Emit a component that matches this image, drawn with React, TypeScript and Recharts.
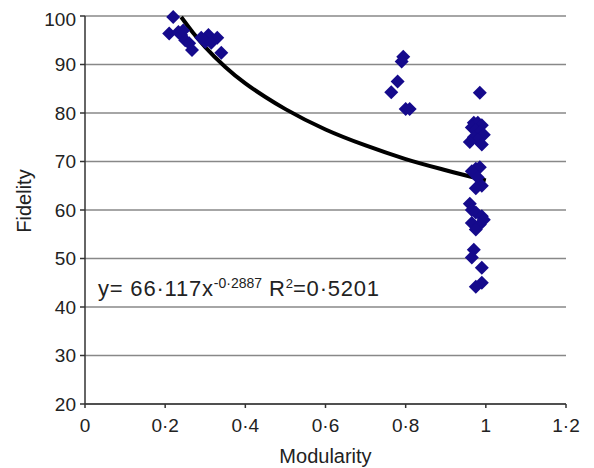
import {
  ComposedChart,
  Scatter,
  Line,
  XAxis,
  YAxis,
  CartesianGrid,
} from "recharts";

// modularity / fidelity, three clusters
const modularity = [
  0.22, 0.21, 0.233, 0.24, 0.25, 0.26, 0.267, 0.308, 0.33, 0.3, 0.34, 0.245, 0.29, 0.315,
  0.794, 0.79, 0.78, 0.764, 0.8, 0.81,
  0.985, 0.97, 0.98, 0.99, 0.965, 0.975, 0.985, 0.995, 0.97, 0.98, 0.96, 0.99,
  0.975, 0.985, 0.965, 0.98, 0.99, 0.975, 0.96, 0.965, 0.975, 0.99, 0.995, 0.965,
  0.985, 0.975, 0.97, 0.965, 0.99, 0.99, 0.975,
];
const fidelity = [
  99.8, 96.4, 96.7, 96.1, 95, 94.4, 93, 96.1, 95.5, 94.7, 92.4, 97, 95.5, 94.5,
  91.6, 90.6, 86.5, 84.3, 80.8, 80.8,
  84.2, 78, 78, 77.5, 77, 76.5, 76, 75.5, 75, 74.5, 74, 73.5,
  68.5, 68.8, 68, 66.7, 65, 64.5, 61.3, 60, 59.5, 58.7, 58, 57.3,
  57, 56, 51.8, 50.2, 48.1, 45, 44.2,
];

// power trendline
const trendX = [0.24, 0.27, 0.3, 0.35, 0.4, 0.45, 0.5, 0.6, 0.7, 0.8, 0.9, 1.0];
const trendY = [99.8, 96.5, 93.6, 89.5, 86.1, 83.3, 80.8, 76.6, 73.3, 70.5, 68.2, 66.1];

const xTicks = [0, 0.2, 0.4, 0.6, 0.8, 1, 1.2];
const yTicks = [20, 30, 40, 50, 60, 70, 80, 90, 100];

const points = modularity.map((x, i) => ({ x, y: fidelity[i] }));
const trend = trendX.map((x, i) => ({ x, y: trendY[i] }));

const FONT = "'Liberation Sans', Arial, sans-serif";
const dot = (v: number) => String(v).replace(".", "·");

const Diamond = (props: any) => {
  const { cx, cy } = props;
  const r = 7;
  return (
    <polygon
      points={`${cx},${cy - r} ${cx + r},${cy} ${cx},${cy + r} ${cx - r},${cy}`}
      fill="#150a8c"
    />
  );
};

export default function App() {
  return (
    <div style={{ position: "relative", width: 586, height: 460, fontFamily: FONT }}>
      <ComposedChart
        width={586}
        height={460}
        margin={{ top: 8, right: 28, bottom: 0, left: 0 }}
      >
        <CartesianGrid horizontal vertical={false} stroke="#888" strokeWidth={1.5} />
        <XAxis
          type="number"
          dataKey="x"
          domain={[0, 1.2]}
          ticks={xTicks}
          tickFormatter={dot}
          height={64}
          tickSize={4}
          tickMargin={11}
          stroke="#333"
          strokeWidth={1.5}
          tick={{ fill: "#222", fontSize: 19, fontFamily: FONT }}
          label={{
            value: "Modularity",
            position: "insideBottom",
            offset: 5,
            fill: "#222",
            fontSize: 20,
            fontFamily: FONT,
          }}
        />
        <YAxis
          type="number"
          dataKey="y"
          domain={[20, 100]}
          ticks={yTicks}
          width={77}
          tickSize={5}
          tickMargin={4}
          stroke="#333"
          strokeWidth={1.5}
          tick={{ fill: "#222", fontSize: 19, fontFamily: FONT }}
          label={{
            content: () => (
              <text
                x={16}
                y={193}
                transform="rotate(-90 16 193)"
                textAnchor="middle"
                dominantBaseline="central"
                fill="#222"
                fontSize={20}
                fontFamily={FONT}
              >
                Fidelity
              </text>
            ),
          }}
        />
        <Scatter data={points} shape={Diamond} isAnimationActive={false} />
        <Line
          data={trend}
          dataKey="y"
          type="monotone"
          stroke="#000"
          strokeWidth={4}
          dot={false}
          activeDot={false}
          isAnimationActive={false}
        />
      </ComposedChart>
      <div
        style={{
          position: "absolute",
          left: 90,
          top: 268,
          fontSize: 22,
          color: "#222",
          whiteSpace: "nowrap",
          lineHeight: 1,
          letterSpacing: "0.8px",
        }}
      >
        y= 66·117x
        <sup style={{ fontSize: 14, verticalAlign: "8px", letterSpacing: 0 }}>-0·2887</sup> R
        <sup style={{ fontSize: 13, verticalAlign: "8px", letterSpacing: 0 }}>2</sup>=0·5201
      </div>
    </div>
  );
}
